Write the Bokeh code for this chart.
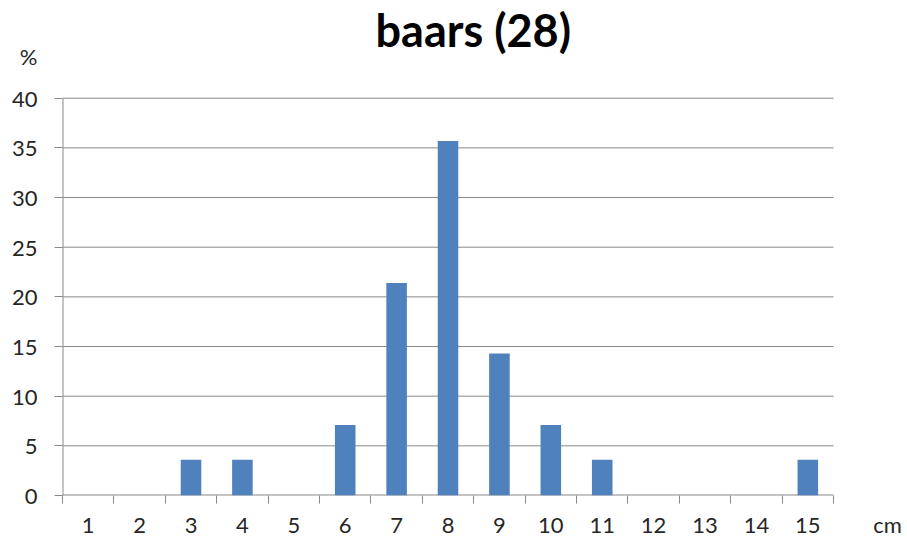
from bokeh.plotting import figure
from bokeh.models import Range1d, FixedTicker, Title
from bokeh.embed import file_html
from bokeh.resources import INLINE

lengths_cm = [1, 2, 3, 4, 5, 6, 7, 8, 9, 10, 11, 12, 13, 14, 15]
percent = [0, 0, 3.6, 3.6, 0, 7.1, 21.4, 35.7, 14.3, 7.1, 3.6, 0, 0, 0, 3.6]
y_ticks = [0, 5, 10, 15, 20, 25, 30, 35, 40]
title_text = "baars (28)"
y_unit = "%"
x_unit = "cm"

FONT = "Lato"
GRID = "#898989"
BAR = "#4F81BD"
TXT = "#262626"

x_lo, x_hi = lengths_cm[0] - 0.5, lengths_cm[-1] + 0.5
y_lo, y_hi = y_ticks[0], y_ticks[-1]
x_unit_pos = 16.55      # where the "cm" unit label sits along x
y_unit_pos = 44.2       # where the "%" unit label sits along y

p = figure(width=907, height=540, output_backend="svg", toolbar_location=None,
           x_range=Range1d(x_lo, 16.9), y_range=Range1d(y_lo, y_unit_pos),
           min_border_left=62, min_border_right=2, min_border_top=56, min_border_bottom=44)
p.outline_line_color = None
p.background_fill_color = "white"
p.border_fill_color = "white"

# horizontal gridlines (only across the category area)
p.segment(x0=[x_lo] * (len(y_ticks) - 1), x1=[x_hi] * (len(y_ticks) - 1),
          y0=y_ticks[1:], y1=y_ticks[1:], line_color=GRID, line_width=1)
# axis lines
p.segment(x0=[x_lo], x1=[x_hi], y0=[y_lo], y1=[y_lo], line_color=GRID, line_width=2)
p.segment(x0=[x_lo], x1=[x_lo], y0=[y_lo], y1=[y_hi], line_color=GRID, line_width=2)

p.vbar(x=lengths_cm, top=percent, width=0.4, fill_color=BAR, line_color=None)

# x axis: labels at category centres (+ unit), tick marks between categories
xa = p.xaxis[0]
xa.ticker = FixedTicker(ticks=lengths_cm + [x_unit_pos],
                        minor_ticks=[c - 0.5 for c in lengths_cm] + [x_hi])
xa.major_label_overrides = {x_unit_pos: x_unit}
xa.major_tick_out = 0
xa.major_tick_in = 0
xa.minor_tick_out = 8
xa.minor_tick_in = 0
xa.minor_tick_line_color = GRID
xa.axis_line_color = None
xa.major_label_standoff = 7
xa.major_label_text_font = FONT
xa.major_label_text_font_size = "22px"
xa.major_label_text_color = TXT

# y axis: labels 0..40 (+ unit), tick marks via minor ticks
ya = p.yaxis[0]
ya.ticker = FixedTicker(ticks=y_ticks + [y_unit_pos], minor_ticks=y_ticks)
ya.major_label_overrides = {y_unit_pos: y_unit}
ya.major_tick_out = 0
ya.major_tick_in = 0
ya.minor_tick_out = 8
ya.minor_tick_in = 0
ya.minor_tick_line_color = GRID
ya.axis_line_color = None
ya.major_label_standoff = 17
ya.major_label_text_font = FONT
ya.major_label_text_font_size = "22px"
ya.major_label_text_color = TXT

p.xgrid.grid_line_color = None
p.ygrid.grid_line_color = None

p.add_layout(Title(text=title_text, text_font=FONT, text_font_style="bold",
                   text_font_size="45px", align="left", offset=313, standoff=0,
                   text_color="black"), "above")

open("out.html", "w").write(file_html(p, INLINE))
